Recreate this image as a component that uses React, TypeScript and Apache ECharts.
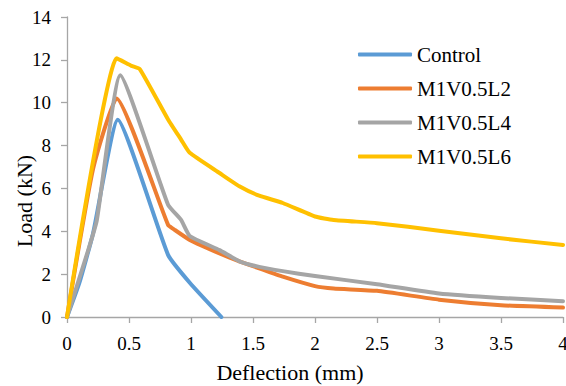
import React, { useEffect, useRef } from "react";
import * as echarts from "echarts";

const seriesNames = ["Control", "M1V0.5L2", "M1V0.5L4", "M1V0.5L6"];
const seriesColors = ["#5B9BD5", "#ED7D31", "#A5A5A5", "#FFC000"];

const control: number[][] = [
  [0, 0], [0.1, 1.6], [0.21, 3.9], [0.41, 9.2], [0.815, 2.9], [0.99, 1.6], [1.245, 0],
];
const l2: number[][] = [
  [0, 0], [0.21, 6.9], [0.4, 10.2], [0.815, 4.3], [0.87, 4.06], [0.99, 3.6], [1.23, 2.97],
  [1.39, 2.6], [1.55, 2.27], [1.74, 1.88], [2, 1.44], [2.15, 1.33], [2.5, 1.22], [3, 0.81],
  [3.5, 0.55], [4, 0.44],
];
const l4: number[][] = [
  [0, 0], [0.17, 3.1], [0.24, 4.5], [0.43, 11.28], [0.815, 5.24], [0.92, 4.53], [0.99, 3.78],
  [1.23, 3.12], [1.39, 2.6], [1.55, 2.34], [1.74, 2.14], [2, 1.91], [2.5, 1.53], [3, 1.1],
  [3.5, 0.89], [4, 0.74],
];
const l6: number[][] = [
  [0, 0], [0.4, 12.07], [0.52, 11.72], [0.587, 11.57], [0.815, 9.22], [0.92, 8.28],
  [0.99, 7.66], [1.23, 6.72], [1.39, 6.1], [1.55, 5.66], [1.74, 5.32], [2, 4.69],
  [2.15, 4.53], [2.5, 4.38], [3, 4.03], [3.5, 3.67], [4, 3.36],
];
const allData = [control, l2, l4, l6];

const FONT = "Liberation Serif";

export default function App() {
  const ref = useRef<HTMLDivElement>(null);
  useEffect(() => {
    if (!ref.current) return;
    const chart = echarts.init(ref.current, null, { renderer: "svg" });
    const axisColor = "#A6A6A6";
    chart.setOption({
      animation: false,
      backgroundColor: "#fff",
      textStyle: { fontFamily: FONT, color: "#000" },
      grid: { left: 67, right: 3, top: 17, bottom: 69, containLabel: false, outerBoundsMode: "none" },
      legend: {
        orient: "vertical",
        left: 353,
        top: 39,
        itemWidth: 54,
        itemHeight: 4,
        itemGap: 13,
        icon: "roundRect",
        data: seriesNames,
        textStyle: { fontFamily: FONT, fontSize: 21, color: "#000" },
      },
      xAxis: {
        type: "value",
        min: 0,
        max: 4,
        interval: 0.5,
        name: "Deflection (mm)",
        nameLocation: "middle",
        nameGap: 44,
        nameMoveOverlap: false,
        nameTextStyle: { fontFamily: FONT, fontSize: 22, color: "#000", padding: [0, 50, 0, 0] },
        axisLine: { lineStyle: { color: axisColor, width: 1.3 } },
        axisTick: { show: true, length: 6, lineStyle: { color: axisColor, width: 1.3 } },
        axisLabel: { fontFamily: FONT, fontSize: 19, color: "#000", margin: 17 },
        splitLine: { show: false },
      },
      yAxis: {
        type: "value",
        min: 0,
        max: 14,
        interval: 2,
        name: "Load (kN)",
        nameLocation: "middle",
        nameGap: 32,
        nameMoveOverlap: false,
        nameTextStyle: { fontFamily: FONT, fontSize: 22, color: "#000", padding: [0, 68, 0, 0] },
        axisLine: { show: true, lineStyle: { color: axisColor, width: 1.3 } },
        axisTick: { show: true, length: 6, lineStyle: { color: axisColor, width: 1.3 } },
        axisLabel: { fontFamily: FONT, fontSize: 19, color: "#000", margin: 16 },
        splitLine: { show: false },
      },
      series: seriesNames.map((name, i) => ({
        name,
        type: "line",
        data: allData[i],
        showSymbol: false,
        symbol: "none",
        smooth: 0.15,
        color: seriesColors[i],
        lineStyle: { width: 4, color: seriesColors[i], cap: "round", join: "round" },
      })),
    });
    return () => chart.dispose();
  }, []);
  return <div ref={ref} style={{ width: 566, height: 386, position: "absolute", left: 0, top: 0 }} />;
}
